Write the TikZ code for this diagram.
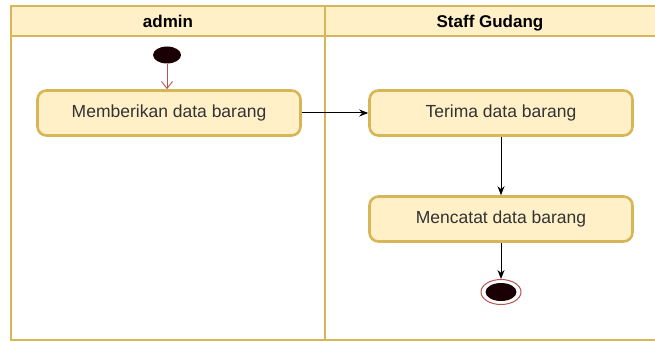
\documentclass[tikz,border=0pt]{standalone}
\usepackage{fontspec}
\setmainfont{Liberation Sans}
\usetikzlibrary{arrows.meta,shapes.geometric}
\definecolor{laneline}{HTML}{D6B656}
\definecolor{lanefill}{HTML}{FFF0C8}
\definecolor{flowred}{HTML}{B85450}
\definecolor{textgray}{HTML}{333333}
\definecolor{dotfill}{HTML}{1A0004}
\tikzset{
  lane/.style={draw=laneline, line width=2.6pt},
  lanehead/.style={inner sep=0pt, minimum height=30pt, text depth=0pt,
    font=\bfseries\fontsize{17}{20}\selectfont, text=black},
  action/.style={draw=laneline, fill=lanefill, line width=2.6pt, rounded corners=9pt,
    minimum width=263pt, minimum height=45pt, inner sep=0pt,
    font=\fontsize{17.5}{20}\selectfont, text=textgray},
  flow/.style={-{Stealth[length=9pt,width=7pt]}, line width=1pt, black},
  startflow/.style={-{Straight Barb[length=7pt,width=11pt]}, line width=0.9pt, flowred},
  startdot/.style={ellipse, fill=dotfill, minimum width=28pt, minimum height=17pt, inner sep=0pt},
  endring/.style={ellipse, draw=flowred, fill=white, line width=1pt, minimum width=40pt, minimum height=25pt, inner sep=0pt},
  enddot/.style={ellipse, fill=dotfill, minimum width=31pt, minimum height=18pt, inner sep=0pt},
}
\begin{document}
\begin{tikzpicture}[x=1pt, y=-1pt]
  \useasboundingbox (0,0) rectangle (655,342);
  % swimlane header band
  \filldraw[draw=laneline, fill=lanefill, line width=2.6pt] (11,6) rectangle (662,36);
  % swimlane header titles
  \node[lanehead] (hadmin) at (168,21) {admin};
  \node[lanehead] (hstaff) at (490,21) {Staff Gudang};
  % lane frame
  \draw[lane] (11,36) -- (11,340) -- (662,340);
  \draw[lane] (325,6) -- (325,340);
  % activity nodes
  \node[startdot] (start) at (167,55) {};
  \node[action] (give) at (169,113) {Memberikan data barang};
  \node[action] (recv) at (501,113) {Terima data barang};
  \node[action] (note) at (501,219) {Mencatat data barang};
  \node[endring] (stop) at (501,292) {};
  \node[enddot] (stopdot) at (stop) {};
  % control flows
  \draw[startflow] (start) -- (start |- give.north);
  \draw[flow] (give) -- (recv);
  \draw[flow] (recv) -- (note);
  \draw[flow] (note) -- (stop);
\end{tikzpicture}
\end{document}
